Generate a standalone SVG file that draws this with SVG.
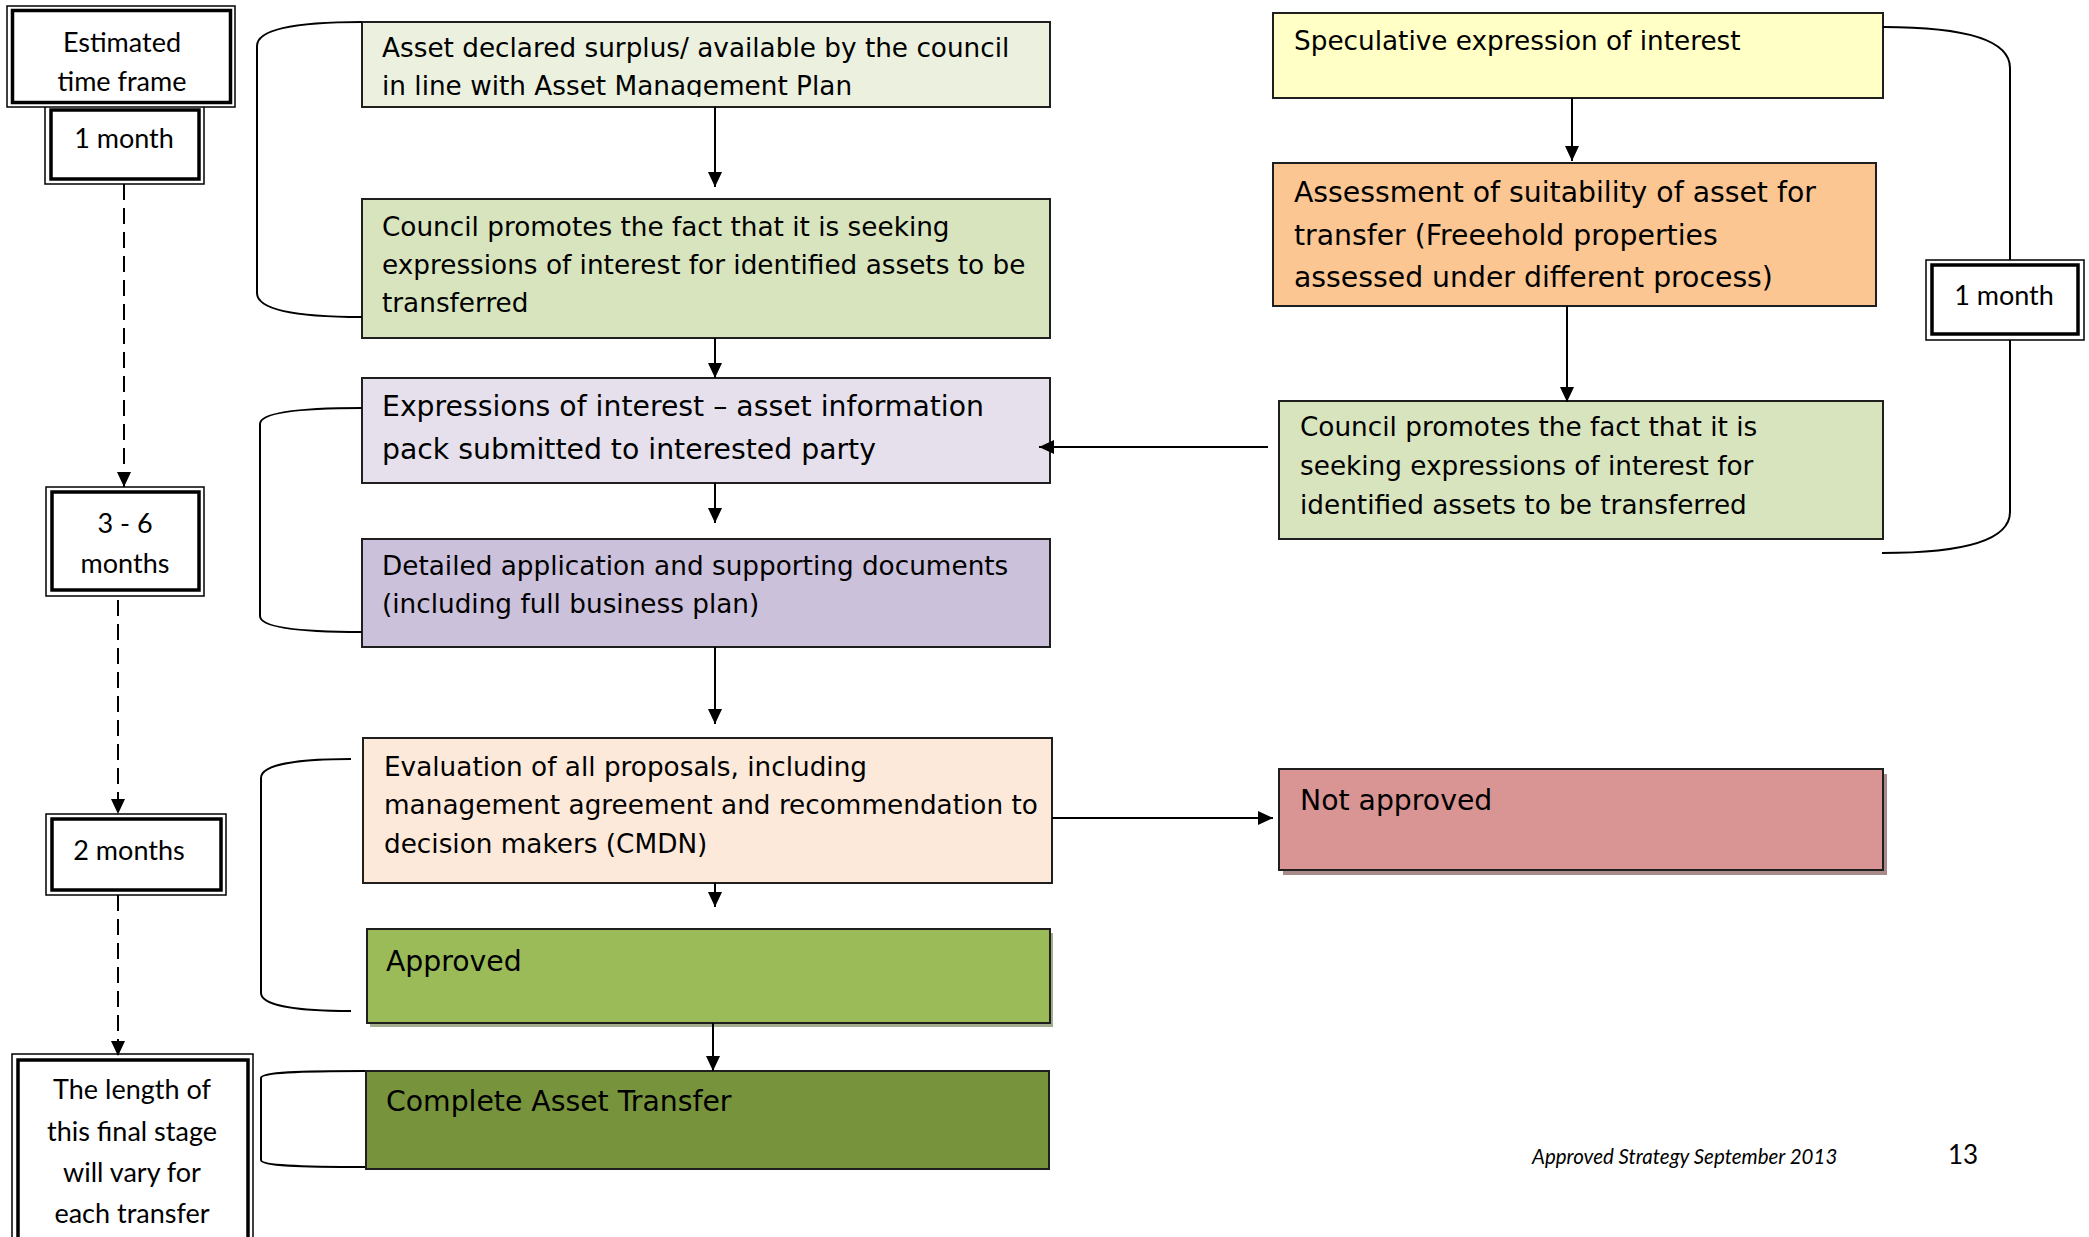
<svg xmlns="http://www.w3.org/2000/svg" width="2089" height="1237" viewBox="0 0 2089 1237">
<style>
.box{stroke:#1f1f1f;stroke-width:2}
.t{font-family:"DejaVu Sans",Verdana,sans-serif;font-size:26.3px;fill:#000}
.t28{font-size:28.3px}
.l{font-family:Lato,"Open Sans",sans-serif;font-size:27px;fill:#000;text-anchor:middle}
.o{fill:#fff;stroke:#000;stroke-width:1.5}
.i{fill:none;stroke:#000;stroke-width:3.5}
.c{fill:none;stroke:#000;stroke-width:2}
.d{fill:none;stroke:#000;stroke-width:2;stroke-dasharray:16 8}
.br{fill:none;stroke:#000;stroke-width:2}
</style>
<defs>
<marker id="ah" markerUnits="userSpaceOnUse" markerWidth="15" markerHeight="14" refX="15" refY="7" orient="auto">
<path d="M0,0 L15,7 L0,14 z" fill="#000"/>
</marker>
<clipPath id="clip1"><rect x="362" y="22" width="688" height="75"/></clipPath>
</defs>
<rect width="2089" height="1237" fill="#fff"/>

<g id="n-est">
<rect class="o" x="45" y="106" width="159" height="78"/>
<rect class="i" x="51" y="110" width="148" height="69"/>
<rect class="o" x="7" y="6" width="228" height="101"/>
<rect class="i" x="12.5" y="10.5" width="218" height="92"/>
<text class="l" x="122" y="52">Estimated</text>
<text class="l" x="122" y="91">time frame</text>
<text class="l" x="124" y="148">1 month</text>
</g>

<g id="n-36">
<rect class="o" x="46" y="487" width="158" height="109"/>
<rect class="i" x="52" y="492" width="147" height="98"/>
<text class="l" x="125" y="533">3 - 6</text>
<text class="l" x="125" y="573">months</text>
</g>

<g id="n-2m">
<rect class="o" x="46" y="814" width="180" height="81"/>
<rect class="i" x="52" y="819" width="169" height="71"/>
<text class="l" x="129" y="860">2 months</text>
</g>

<g id="n-final">
<rect class="o" x="12" y="1054" width="241" height="190"/>
<rect class="i" x="18" y="1060" width="230" height="180"/>
<text class="l" x="132" y="1099">The length of</text>
<text class="l" x="132" y="1141">this final stage</text>
<text class="l" x="132" y="1182">will vary for</text>
<text class="l" x="132" y="1223">each transfer</text>
</g>

<g id="n-1mr">
<rect class="o" x="1926" y="260" width="158" height="80"/>
<rect class="i" x="1932" y="265" width="146" height="69"/>
<text class="l" x="2004" y="305">1 month</text>
</g>

<g id="n1">
<rect class="box" x="362" y="22" width="688" height="85" fill="#EBF1DE"/>
<g clip-path="url(#clip1)">
<text class="t" x="382" y="57">Asset declared surplus/ available by the council</text>
<text class="t" x="382" y="95">in line with Asset Management Plan</text>
</g>
</g>

<g id="n2">
<rect class="box" x="362" y="199" width="688" height="139" fill="#D7E4BD"/>
<text class="t" x="382" y="236">Council promotes the fact that it is seeking</text>
<text class="t" x="382" y="274">expressions of interest for identified assets to be</text>
<text class="t" x="382" y="312">transferred</text>
</g>

<g id="n3">
<rect class="box" x="362" y="378" width="688" height="105" fill="#E5E0EC"/>
<text class="t t28" x="382" y="416">Expressions of interest – asset information</text>
<text class="t t28" x="382" y="459">pack submitted to interested party</text>
</g>

<g id="n4">
<rect class="box" x="362" y="539" width="688" height="108" fill="#CCC1DA"/>
<text class="t" x="382" y="575">Detailed application and supporting documents</text>
<text class="t" x="382" y="613">(including full business plan)</text>
</g>

<g id="n5">
<rect class="box" x="363" y="738" width="689" height="145" fill="#FDE9D9"/>
<text class="t" x="384" y="776">Evaluation of all proposals, including</text>
<text class="t" x="384" y="814">management agreement and recommendation to</text>
<text class="t" x="384" y="853">decision makers (CMDN)</text>
</g>

<g id="n6">
<rect x="370" y="933" width="683" height="94" fill="#A3AC8C"/>
<rect class="box" x="367" y="929" width="683" height="94" fill="#9BBB59"/>
<text class="t t28" x="386" y="971">Approved</text>
</g>

<g id="n7">
<rect class="box" x="366" y="1071" width="683" height="98" fill="#77933C"/>
<text class="t t28" x="386" y="1111">Complete Asset Transfer</text>
</g>

<g id="n8">
<rect class="box" x="1273" y="13" width="610" height="85" fill="#FFFFC6"/>
<text class="t" x="1294" y="50">Speculative expression of interest</text>
</g>

<g id="n9">
<rect class="box" x="1273" y="163" width="603" height="143" fill="#FBC692"/>
<text class="t t28" x="1294" y="202">Assessment of suitability of asset for</text>
<text class="t t28" x="1294" y="245">transfer (Freeehold properties</text>
<text class="t t28" x="1294" y="287">assessed under different process)</text>
</g>

<g id="n10">
<rect class="box" x="1279" y="401" width="604" height="138" fill="#D7E4BD"/>
<text class="t" x="1300" y="436">Council promotes the fact that it is</text>
<text class="t" x="1300" y="475">seeking expressions of interest for</text>
<text class="t" x="1300" y="514">identified assets to be transferred</text>
</g>

<g id="n11">
<rect x="1283" y="774" width="604" height="101" fill="#A88A8A"/>
<rect class="box" x="1279" y="769" width="604" height="101" fill="#D99594"/>
<text class="t t28" x="1300" y="810">Not approved</text>
</g>

<g id="connectors">
<path class="c" d="M715,107 V187" marker-end="url(#ah)"/>
<path class="c" d="M715,338 V378" marker-end="url(#ah)"/>
<path class="c" d="M715,483 V523" marker-end="url(#ah)"/>
<path class="c" d="M715,647 V724" marker-end="url(#ah)"/>
<path class="c" d="M715,883 V907" marker-end="url(#ah)"/>
<path class="c" d="M713,1023 V1071" marker-end="url(#ah)"/>
<path class="c" d="M1572,98 V161" marker-end="url(#ah)"/>
<path class="c" d="M1567,306 V402" marker-end="url(#ah)"/>
<path class="c" d="M1268,447 H1039" marker-end="url(#ah)"/>
<path class="c" d="M1052,818 H1273" marker-end="url(#ah)"/>
<path class="d" d="M124,184 V487" marker-end="url(#ah)"/>
<path class="d" d="M118,600 V814" marker-end="url(#ah)"/>
<path class="d" d="M118,895 V1056" marker-end="url(#ah)"/>
<path class="br" d="M362,22 C300,22 257,28 257,46 V293 C257,311 300,317 362,317"/>
<path class="br" d="M362,408 C305,408 260,412 260,424 V616 C260,628 305,632 362,632"/>
<path class="br" d="M351,759 C300,759 261,764 261,778 V993 C261,1006 300,1011 351,1011"/>
<path class="br" d="M365,1071 C300,1071 261,1072 261,1078 V1160 C261,1166 300,1167 365,1167"/>
<path class="br" d="M1883,27 C1960,27 2010,38 2010,68 V260"/>
<path class="br" d="M2010,340 V512 C2010,542 1960,553 1882,553"/>
</g>

<g id="footer">
<text x="1532" y="1164" font-family="Lato,sans-serif" font-style="italic" font-size="20.5">Approved Strategy September 2013</text>
<text x="1948" y="1164" font-family="Lato,sans-serif" font-size="26">13</text>
</g>
</svg>
